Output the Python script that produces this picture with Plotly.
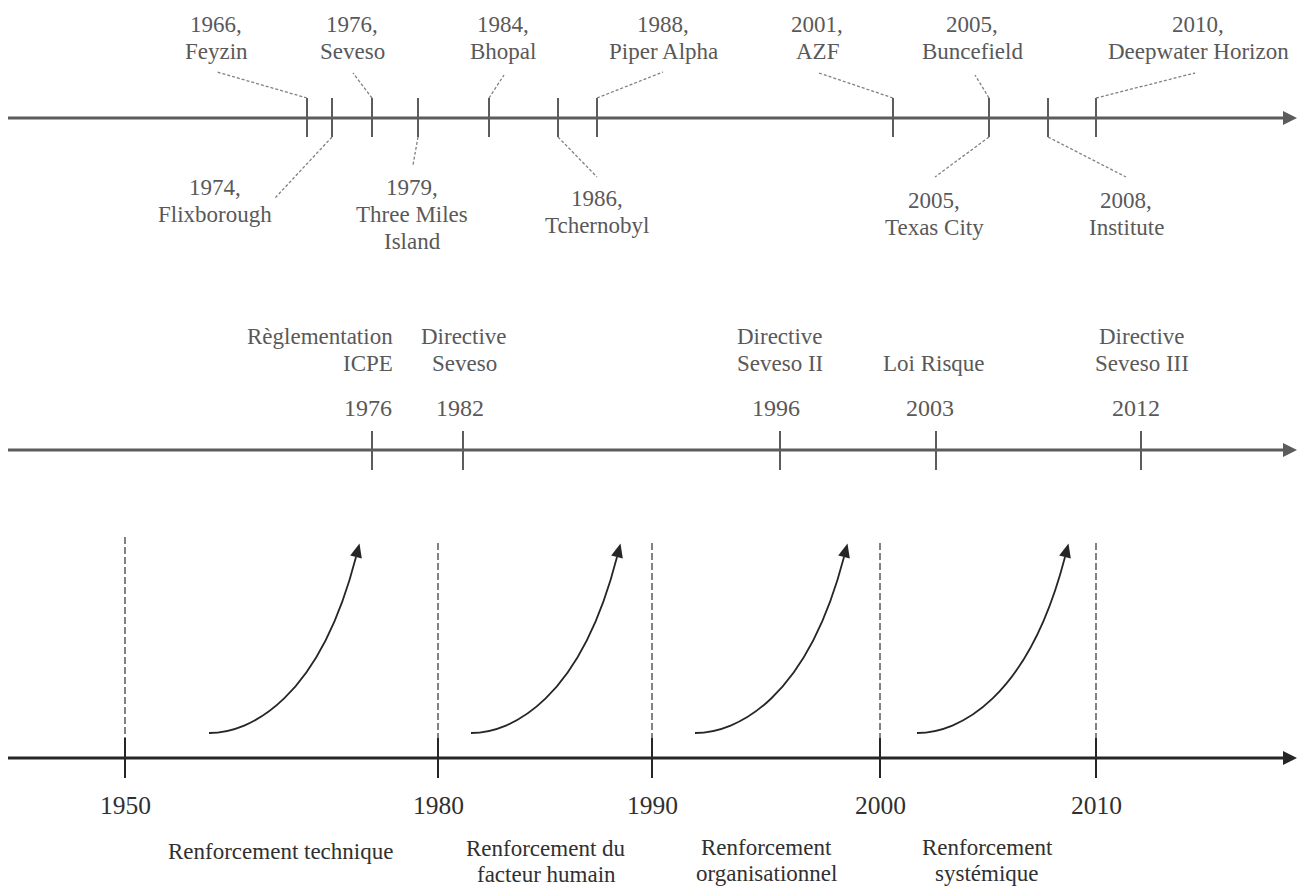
import math
import plotly.graph_objects as go

# ---------------- DATA ----------------
accident_years = ["1966", "1974", "1976", "1979", "1984", "1986", "1988",
                  "2001", "2005", "2005", "2008", "2010"]
accident_names = ["Feyzin", "Flixborough", "Seveso", "Three Miles<br>Island", "Bhopal",
                  "Tchernobyl", "Piper Alpha", "AZF", "Buncefield", "Texas City",
                  "Institute", "Deepwater Horizon"]

regulation_years = ["1976", "1982", "1996", "2003", "2012"]
regulation_names = ["Règlementation<br>ICPE", "Directive<br>Seveso", "Directive<br>Seveso II",
                    "Loi Risque", "Directive<br>Seveso III"]

period_years = ["1950", "1980", "1990", "2000", "2010"]
phase_names = ["Renforcement technique", "Renforcement du<br>facteur humain",
               "Renforcement<br>organisationnel", "Renforcement<br>systémique"]

# ---------------- LAYOUT (schematic positions, in page pixels) ----------------
W, H = 1303, 887
FONT = "Liberation Serif, Times New Roman, serif"
GREY = "#5c5c5c"
TEXT_GREY = "#595959"
DARK = "#262626"
TEXT_DARK = "#303030"

# accidents timeline
acc_axis_y = 118
acc_tick_x = [307, 332, 372, 418, 489, 558, 597, 893, 989, 989, 1048, 1096]
acc_side = ["up", "down", "up", "down", "up", "down", "up", "up", "up", "down", "down", "up"]
acc_label_x = [216, 215, 352, 412, 503, 597, 663, 817, 972, 934, 1126, 1198]
acc_label_y = [24, 187, 24, 187, 24, 198, 24, 24, 24, 200, 200, 24]
acc_leader_end = [(217, 72), (275, 198), (353, 73), (413, 165), (504, 75), (597, 177),
                  (663, 72), (819, 73), (975, 75), (935, 177), (1126, 177), (1195, 73)]

# regulations timeline
reg_axis_y = 450
reg_tick_x = [372, 463, 780, 936, 1141]
reg_name_x = [395, 464, 780, 934, 1142]
reg_name_anchor = ["right", "center", "center", "center", "center"]
reg_name_y = [336, 336, 336, 363, 336]
reg_year_x = [368, 460, 776, 930, 1136]
reg_year_y = 408

# periods timeline
per_axis_y = 758
period_x = [125, 438, 652, 880, 1096]
period_dash_top = [537, 543, 543, 543, 543]
phase_label_x = [280, 546, 766, 987]
phase_label_y = [851, 848, 847, 847]
curve_x0 = [209, 471, 695, 917]
curve_x1 = [356, 617, 844, 1065]
curve_y0 = 733
curve_y1 = 557

fig = go.Figure()
shapes = []
annotations = []


def hline_arrow(y, color, width):
    shapes.append(dict(type="line", x0=8, x1=1286, y0=y, y1=y,
                       line=dict(color=color, width=width)))
    shapes.append(dict(type="path", path=f"M 1297,{y} L 1283,{y-7} L 1283,{y+7} Z",
                       fillcolor=color, line=dict(color=color, width=0)))


def text(x, y, s, size, color, xanchor="center", align="center"):
    annotations.append(dict(x=x, y=y, text=s, showarrow=False, xref="x", yref="y",
                            xanchor=xanchor, yanchor="middle", align=align,
                            font=dict(family=FONT, size=size, color=color)))


# ---- top: accidents ----
hline_arrow(acc_axis_y, GREY, 3)
for i, yr in enumerate(accident_years):
    tx = acc_tick_x[i]
    shapes.append(dict(type="line", x0=tx, x1=tx, y0=acc_axis_y - 20, y1=acc_axis_y + 19,
                       line=dict(color=GREY, width=2)))
    ex, ey = acc_leader_end[i]
    sy = acc_axis_y - 20 if acc_side[i] == "up" else acc_axis_y + 19
    shapes.append(dict(type="line", x0=tx, x1=ex, y0=sy, y1=ey,
                       line=dict(color="#808080", width=1.3, dash="3px,2px")))
    lines = [yr + ","] + accident_names[i].split("<br>")
    for k, ln in enumerate(lines):
        text(acc_label_x[i], acc_label_y[i] + 27 * k, ln, 23, TEXT_GREY)

# ---- middle: regulations ----
hline_arrow(reg_axis_y, GREY, 3)
for i, yr in enumerate(regulation_years):
    tx = reg_tick_x[i]
    shapes.append(dict(type="line", x0=tx, x1=tx, y0=reg_axis_y - 19, y1=reg_axis_y + 20,
                       line=dict(color=GREY, width=2)))
    for k, ln in enumerate(regulation_names[i].split("<br>")):
        text(reg_name_x[i], reg_name_y[i] + 27 * k, ln, 23, TEXT_GREY,
             xanchor=reg_name_anchor[i])
    text(reg_year_x[i], reg_year_y, yr, 24, TEXT_GREY)

# ---- bottom: periods ----
hline_arrow(per_axis_y, DARK, 3)
for i, yr in enumerate(period_years):
    px = period_x[i]
    shapes.append(dict(type="line", x0=px, x1=px, y0=period_dash_top[i], y1=per_axis_y - 20,
                       line=dict(color="#303030", width=1.2, dash="7px,3px")))
    shapes.append(dict(type="line", x0=px, x1=px, y0=per_axis_y - 20, y1=per_axis_y + 20,
                       line=dict(color=DARK, width=2)))
    text(px, 805, yr, 25.5, TEXT_DARK)

for i, name in enumerate(phase_names):
    x0, x1 = curve_x0[i], curve_x1[i]
    w = x1 - x0
    h = curve_y0 - curve_y1
    c1 = (x0 + 0.28 * w, curve_y0)
    c2 = (x0 + 0.75 * w, curve_y0 - 0.19 * h)
    shapes.append(dict(type="path",
                       path=f"M {x0},{curve_y0} C {c1[0]:.1f},{c1[1]:.1f} {c2[0]:.1f},{c2[1]:.1f} {x1},{curve_y1}",
                       line=dict(color=DARK, width=1.8)))
    dx, dy = x1 - c2[0], curve_y1 - c2[1]
    L = math.hypot(dx, dy)
    ux, uy = dx / L, dy / L
    nx, ny = -uy, ux
    tip = (x1 + 14 * ux, curve_y1 + 14 * uy)
    b1 = (x1 + 6 * nx, curve_y1 + 6 * ny)
    b2 = (x1 - 6 * nx, curve_y1 - 6 * ny)
    shapes.append(dict(type="path",
                       path=f"M {tip[0]:.1f},{tip[1]:.1f} L {b1[0]:.1f},{b1[1]:.1f} L {b2[0]:.1f},{b2[1]:.1f} Z",
                       fillcolor=DARK, line=dict(color=DARK, width=0)))
    for k, ln in enumerate(name.split("<br>")):
        text(phase_label_x[i], phase_label_y[i] + 26 * k, ln, 23, TEXT_DARK)

fig.add_trace(go.Scatter(x=[0, W], y=[0, H], mode="markers",
                         marker=dict(opacity=0), hoverinfo="skip", showlegend=False))

fig.update_layout(
    width=W, height=H,
    margin=dict(l=0, r=0, t=0, b=0),
    paper_bgcolor="white", plot_bgcolor="white",
    shapes=shapes, annotations=annotations,
    xaxis=dict(range=[0, W], visible=False, fixedrange=True),
    yaxis=dict(range=[H, 0], visible=False, fixedrange=True),
    showlegend=False,
)

fig.write_html("out.html", config={"displayModeBar": False},
               post_script="document.body.style.margin='0';document.body.style.overflow='hidden';")
